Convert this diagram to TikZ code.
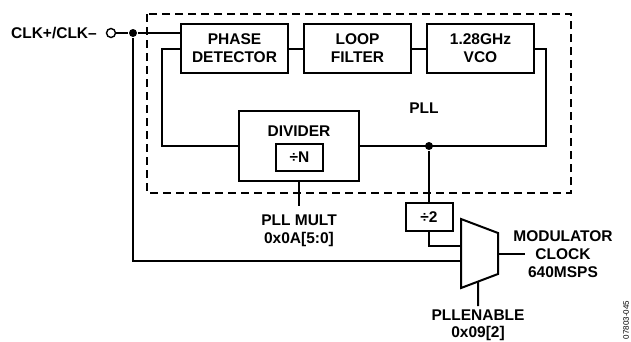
\documentclass[tikz,border=0pt]{standalone}
\usepackage{fontspec}
\setsansfont{Liberation Sans}
\usetikzlibrary{positioning, calc}

\begin{document}
\begin{tikzpicture}[
	x=1pt, y=-1pt,
	font=\sffamily\bfseries\fontsize{15.5}{18}\selectfont,
	line width=2pt,
	% Define styles for the blocks
	block/.style={
		draw,
		minimum height=49pt,
		minimum width=107pt,
		align=center,
		inner sep=0pt,
		outer sep=0pt
	},
	small_block/.style={
		draw,
		minimum height=27pt,
		minimum width=47pt,
		inner sep=0pt,
		outer sep=0pt
	},
	junction/.style={
		circle,
		fill=black,
		inner sep=0pt,
		minimum size=8pt
	},
	port/.style={
		circle,
		draw,
		fill=white,
		inner sep=0pt,
		minimum size=9pt,
		line width=1.4pt
	},
	label_text/.style={
		align=center,
		inner sep=0pt
	},
	pll_frame/.style={
		dash pattern=on 8pt off 5pt
	}
	]
	\useasboundingbox (0,0) rectangle (631,341);
	
	% --- 1. INPUT ---
	\node[port] (clk) at (111,33) {};
	\node[label_text, left=8pt of clk] (clk_text) {CLK+/CLK–};
	\node[junction] (clk_dot) at (133,33) {};
	
	% --- 2. PLL ---
	\draw[pll_frame] (147,14) rectangle (571,193);
	\node[block] (phase) at (234.5,48.5) {PHASE\\DETECTOR};
	\node[block, right=16pt of phase] (loop) {LOOP\\FILTER};
	\node[block, right=16pt of loop] (vco) {1.28GHz\\VCO};
	\node (pll_text) at (424,108) {PLL};
	
	\node[block, minimum width=120pt, minimum height=70pt] (divider) at (299,146) {};
	\node[label_text, below=14pt of divider.north] (divider_text) {DIVIDER};
	\node[small_block] (div_n) at (299.5,157.5) {÷N};
	
	\draw (clk) -- (clk_dot) -- (phase.west |- clk_dot);
	\draw (phase) -- (loop);
	\draw (loop) -- (vco);
	\draw (phase.west) -- ++(-19,0) |- (divider.west);
	\draw (vco.east) -- ++(12,0) |- (divider.east);
	\node[junction] (fb_dot) at (429,146) {};
	
	% Multiplier setting
	\coordinate (mult_end) at (299,206);
	\draw (divider.south) -- (mult_end);
	\node[label_text, below=8pt of mult_end] (mult_text) {PLL MULT\\0x0A[5:0]};
	
	% --- 3. DIVIDE BY 2 ---
	\node[small_block, minimum height=28pt] (div_two) at (429,217) {÷2};
	\draw (fb_dot) -- (div_two);
	
	% --- 4. MUX ---
	\coordinate (mux_a) at (461,219);
	\coordinate (mux_b) at (498,233);
	\coordinate (mux_c) at (498,274);
	\coordinate (mux_d) at (461,288);
	\draw[line join=miter] (mux_a) -- (mux_b) -- (mux_c) -- (mux_d) -- cycle;
	\coordinate (mux_in1) at (461,246);
	\coordinate (mux_in2) at (461,261);
	\coordinate (mux_out) at (498,254);
	\coordinate (mux_sel) at ($(mux_d)!0.46!(mux_c)$);
	
	\draw (div_two.south) |- (mux_in1);
	\draw (clk_dot) |- (mux_in2);
	
	% Output
	\coordinate (out_end) at (525,254);
	\draw (mux_out) -- (out_end);
	\node[label_text] (mod_text) at (563,254) {MODULATOR\\CLOCK\\640MSPS};
	
	% Select
	\coordinate (sel_end) at (478,306);
	\draw (mux_sel) -- (sel_end);
	\node[label_text, below=3pt of sel_end, font=\sffamily\bfseries\fontsize{15.5}{16.5}\selectfont] (sel_text) {PLLENABLE\\0x09[2]};
	
	\node[font=\sffamily\fontsize{8}{8}\selectfont, rotate=90] (fig_id) at (626,320) {07803-045};
	
\end{tikzpicture}
\end{document}
